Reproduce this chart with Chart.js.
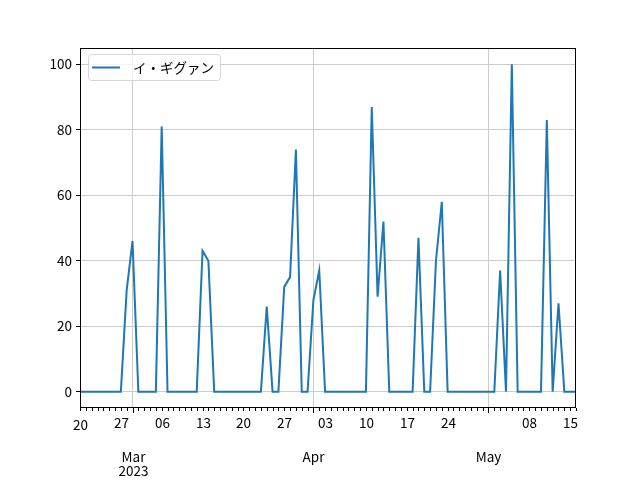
<!DOCTYPE html>
<html>
<head>
<meta charset="utf-8">
<script src="https://cdn.jsdelivr.net/npm/chart.js@4.4.1/dist/chart.umd.min.js"></script>
<style>
  body { margin: 0; background: #fff; }
</style>
</head>
<body>
<canvas id="grafico" width="640" height="480"></canvas>
<script>
// dados diários a partir de 20/02/2023
const anoInicio = 2023;
const mesInicio = 1; // fevereiro (0 = jan)
const diaInicio = 20;
const nomeSerie = 'イ・ギグァン';
const valores = [
    0, 0, 0, 0, 0, 0, 0, 0, 31, 46,
    0, 0, 0, 0, 81, 0, 0, 0, 0, 0,
    0, 43, 40, 0, 0, 0, 0, 0, 0, 0,
    0, 0, 26, 0, 0, 32, 35, 74, 0, 0,
    28, 37, 0, 0, 0, 0, 0, 0, 0, 0,
    87, 29, 52, 0, 0, 0, 0, 0, 47, 0,
    0, 40, 58, 0, 0, 0, 0, 0, 0, 0,
    0, 0, 37, 0, 100, 0, 0, 0, 0, 0,
    83, 0, 27, 0, 0, 0
];
const ticksY = [0, 20, 40, 60, 80, 100];
const nomesMeses = ['Jan', 'Feb', 'Mar', 'Apr', 'May', 'Jun', 'Jul', 'Aug', 'Sep', 'Oct', 'Nov', 'Dec'];

const fonte = '"Noto Sans CJK JP", "Noto Sans", sans-serif';
const corLinha = '#1f77b4';
const corGrade = '#cccccc';

function dataDoIndice(i) {
    return new Date(anoInicio, mesInicio, diaInicio + i);
}
function ehInicioMes(i) {
    return dataDoIndice(i).getDate() === 1;
}
function ehSegunda(i) {
    return dataDoIndice(i).getDay() === 1;
}

const indices = valores.map((v, i) => i);
const pontos = valores.map((v, i) => ({ x: i, y: v }));

// eixo x estilo pandas: ticks diários, semanais com rótulo, meses embaixo
const eixoX = {
    id: 'eixoX',
    afterDraw(chart) {
        const ctx = chart.ctx;
        const x = chart.scales.x;
        const a = chart.chartArea;
        ctx.save();
        ctx.strokeStyle = '#000';
        ctx.lineWidth = 1;
        ctx.strokeRect(Math.round(a.left) + 0.5, Math.round(a.top) + 0.5,
            Math.round(a.right - a.left) - 1, Math.round(a.bottom - a.top) - 1);

        ctx.fillStyle = '#000';
        ctx.font = '13.5px ' + fonte;
        ctx.textAlign = 'center';
        ctx.textBaseline = 'middle';
        let primeiroMes = true;
        indices.forEach(i => {
            const px = Math.round(x.getPixelForValue(i)) + 0.5;
            const tam = ehInicioMes(i) ? 5 : 3;
            ctx.beginPath();
            ctx.moveTo(px, a.bottom);
            ctx.lineTo(px, a.bottom + tam);
            ctx.stroke();
            const d = dataDoIndice(i);
            if (ehInicioMes(i)) {
                ctx.fillText(nomesMeses[d.getMonth()], px, a.bottom + 49);
                if (primeiroMes) {
                    ctx.fillText(String(d.getFullYear()), px, a.bottom + 63);
                    primeiroMes = false;
                }
            } else if (ehSegunda(i)) {
                const rot = String(d.getDate()).padStart(2, '0');
                ctx.fillText(rot, px, a.bottom + (i === 0 ? 17 : 15));
            }
        });
        ctx.restore();
    }
};

// legenda dentro da área do gráfico
const legenda = {
    id: 'legenda',
    afterDraw(chart) {
        const ctx = chart.ctx;
        const a = chart.chartArea;
        ctx.save();
        ctx.font = '13.5px ' + fonte;
        const larg = ctx.measureText(nomeSerie).width;
        const x0 = a.left + 8, y0 = a.top + 6;
        const w = 45 + larg + 6, h = 26;
        ctx.fillStyle = 'rgba(255,255,255,0.8)';
        ctx.strokeStyle = '#d6d6d6';
        ctx.lineWidth = 1;
        ctx.beginPath();
        ctx.roundRect(x0 + 0.5, y0 + 0.5, w, h, 3);
        ctx.fill();
        ctx.stroke();
        ctx.strokeStyle = corLinha;
        ctx.lineWidth = 2;
        ctx.beginPath();
        ctx.moveTo(x0 + 4, y0 + 13.5);
        ctx.lineTo(x0 + 32, y0 + 13.5);
        ctx.stroke();
        ctx.fillStyle = '#000';
        ctx.textBaseline = 'middle';
        ctx.fillText(nomeSerie, x0 + 45, y0 + 14);
        ctx.restore();
    }
};

const ctx = document.getElementById('grafico').getContext('2d');
new Chart(ctx, {
    type: 'line',
    data: {
        datasets: [{
            label: nomeSerie,
            data: pontos,
            borderColor: corLinha,
            borderWidth: 2,
            pointRadius: 0,
            tension: 0,
            fill: false
        }]
    },
    options: {
        responsive: false,
        animation: false,
        devicePixelRatio: 1,
        layout: { padding: { top: 48, right: 64, left: 0, bottom: 0 } },
        plugins: {
            legend: { display: false },
            tooltip: { enabled: false }
        },
        scales: {
            x: {
                type: 'linear',
                min: 0,
                max: valores.length - 1,
                afterBuildTicks: scale => {
                    scale.ticks = indices.map(i => ({ value: i }));
                },
                afterFit: scale => { scale.height = 72; },
                ticks: { display: false, autoSkip: false },
                border: { display: false },
                grid: {
                    drawTicks: false,
                    color: c => ehInicioMes(c.tick.value) ? corGrade : 'rgba(0,0,0,0)',
                    lineWidth: 1
                }
            },
            y: {
                min: -5,
                max: 105,
                afterBuildTicks: scale => {
                    scale.ticks = ticksY.map(v => ({ value: v }));
                },
                afterFit: scale => { scale.width = 80; },
                ticks: {
                    color: '#000',
                    font: { family: fonte, size: 13.5 },
                    padding: 4
                },
                border: { display: false },
                grid: {
                    color: corGrade,
                    lineWidth: 1,
                    drawTicks: true,
                    tickLength: 4,
                    tickColor: '#000'
                }
            }
        }
    },
    plugins: [eixoX, legenda]
});
</script>
</body>
</html>
